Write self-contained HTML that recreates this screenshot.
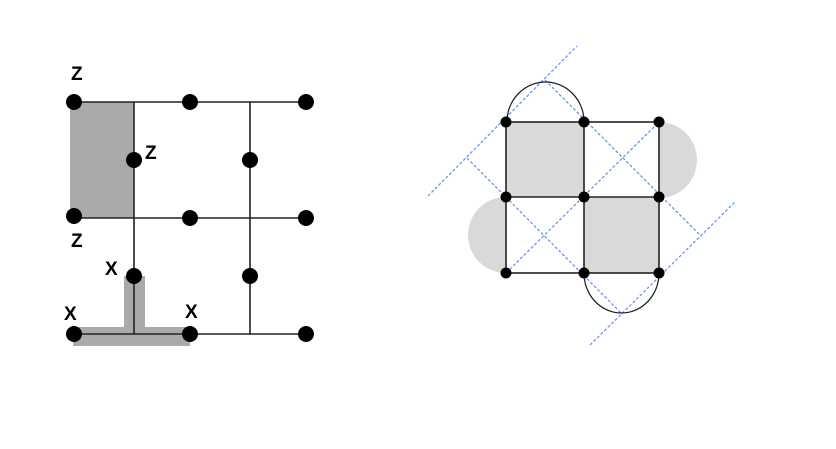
<!DOCTYPE html>
<html><head><style>body{margin:0;background:#fff}svg{display:block}</style></head><body>
<svg width="836" height="449" viewBox="0 0 836 449" xmlns="http://www.w3.org/2000/svg">
<rect width="836" height="449" fill="#fff"/>
<!-- left diagram -->
<rect x="70" y="102" width="64" height="116" fill="#aaaaaa"/>
<rect x="124" y="276" width="21" height="58" fill="#aaaaaa"/>
<rect x="73" y="327" width="117" height="19" fill="#aaaaaa"/>
<g stroke="#222" stroke-width="1.6">
<line x1="74" y1="102" x2="306" y2="102"/>
<line x1="74" y1="218" x2="306" y2="218"/>
<line x1="74" y1="334" x2="306" y2="334"/>
<line x1="134" y1="102" x2="134" y2="334"/>
<line x1="250" y1="102" x2="250" y2="334"/>
</g>
<g fill="#000">
<circle cx="74" cy="102" r="8"/><circle cx="190" cy="102" r="8"/><circle cx="306" cy="102" r="8"/>
<circle cx="74" cy="216" r="8"/><circle cx="190" cy="218" r="8"/><circle cx="306" cy="218" r="8"/>
<circle cx="74" cy="334" r="8"/><circle cx="190" cy="334" r="8"/><circle cx="306" cy="334" r="8"/>
<circle cx="134" cy="160" r="8"/><circle cx="250" cy="160" r="8"/>
<circle cx="134" cy="276" r="8"/><circle cx="250" cy="276" r="8"/>
</g>
<g font-family="Liberation Sans, sans-serif" font-weight="bold" font-size="19" fill="#000">
<text x="71" y="80">Z</text>
<text x="145" y="159">Z</text>
<text x="71" y="247">Z</text>
<text x="105" y="275">X</text>
<text x="64" y="320">X</text>
<text x="185" y="318">X</text>
</g>
<!-- right diagram -->
<path d="M659 122 A38 38 0 0 1 659 198 Z" fill="#d9d9d9"/>
<path d="M506 197 A38 38 0 0 0 506 273 Z" fill="#d9d9d9"/>
<rect x="506" y="122" width="78" height="75" fill="#d9d9d9"/>
<rect x="584" y="197" width="75" height="76" fill="#d9d9d9"/>
<g stroke="#5f8ff2" stroke-width="1.2" stroke-dasharray="3,2" fill="none">
<line x1="428" y1="196" x2="577" y2="46"/>
<line x1="590" y1="345" x2="735" y2="202"/>
<line x1="506" y1="273" x2="659" y2="122"/>
<line x1="467" y1="158" x2="621" y2="313"/>
<line x1="545" y1="80" x2="700" y2="235"/>
</g>
<g stroke="#1a1a2a" stroke-width="1.3" fill="none">
<path d="M507 122 A38.5 40 0 0 1 584 122"/>
<path d="M584 273 A37.5 40 0 0 0 659 273"/>
</g>
<g stroke="#222" stroke-width="1.6" fill="none">
<rect x="506" y="122" width="153" height="151"/>
<line x1="584" y1="122" x2="584" y2="273"/>
<line x1="506" y1="197" x2="659" y2="197"/>
</g>
<g fill="#000">
<circle cx="506" cy="122" r="5.5"/><circle cx="584" cy="122" r="5.5"/><circle cx="659" cy="122" r="5.5"/>
<circle cx="506" cy="197" r="5.5"/><circle cx="584" cy="197" r="5.5"/><circle cx="659" cy="197" r="5.5"/>
<circle cx="506" cy="273" r="5.5"/><circle cx="584" cy="273" r="5.5"/><circle cx="659" cy="273" r="5.5"/>
</g>
</svg>
</body></html>
